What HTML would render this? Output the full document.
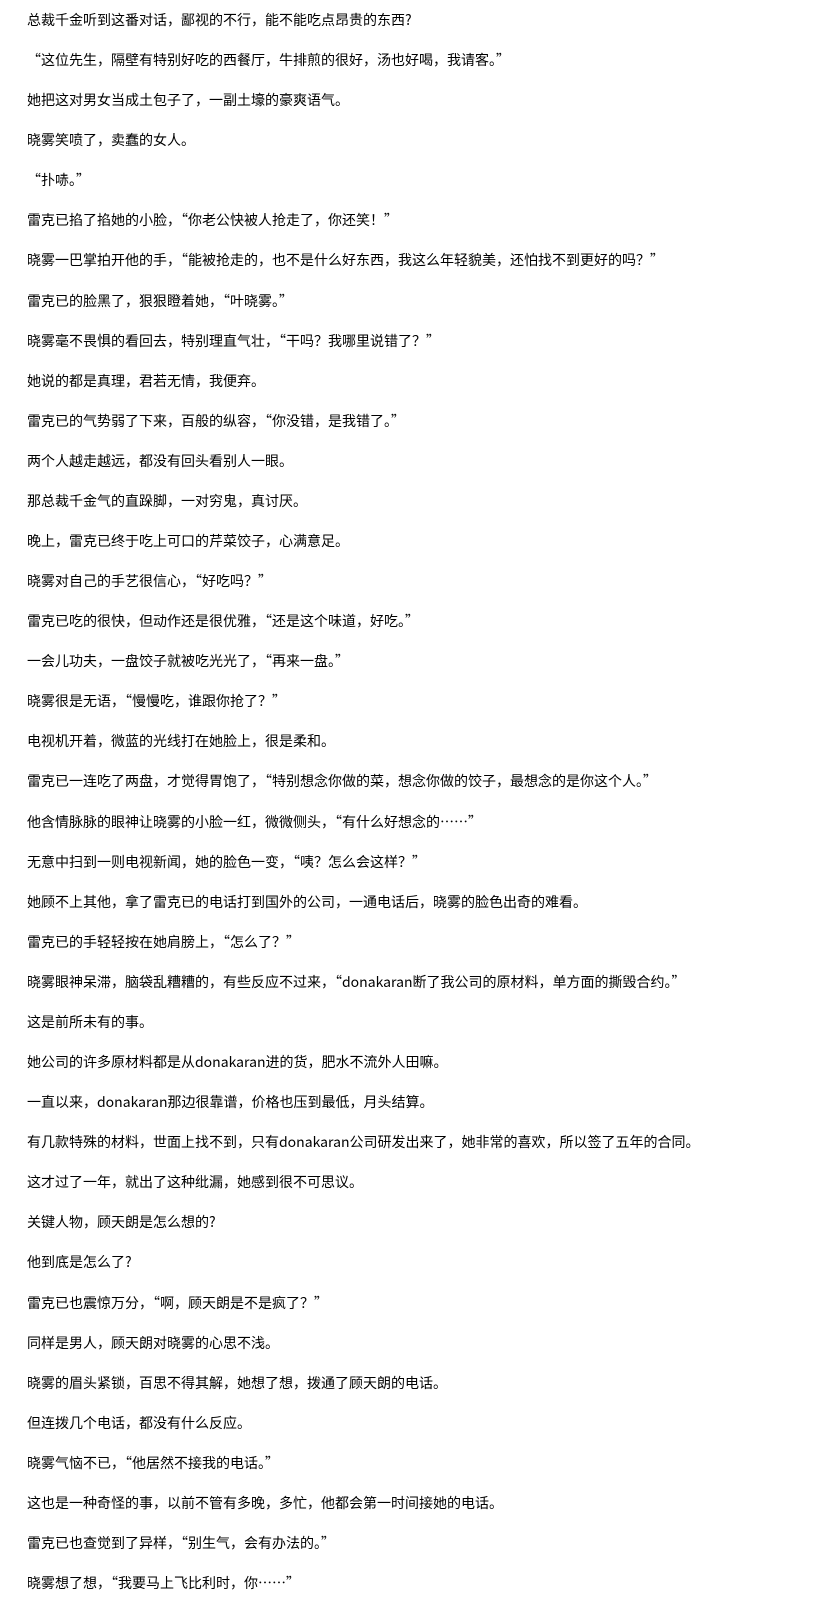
<!DOCTYPE html>
<html><head><meta charset="utf-8"><style>
html,body{margin:0;padding:0;background:#fff;width:835px;height:1611px;overflow:hidden;position:relative}
body{font-family:"WenQuanYi Zen Hei","Noto Sans CJK SC",sans-serif;font-size:14px;color:#000}
p{position:absolute;left:27px;margin:0;height:40px;line-height:40px;white-space:nowrap}
</style></head><body>
<p style="top:0px">总裁千金听到这番对话，鄙视的不行，能不能吃点昂贵的东西?</p>
<p style="top:40px">“这位先生，隔壁有特别好吃的西餐厅，牛排煎的很好，汤也好喝，我请客。”</p>
<p style="top:80px">她把这对男女当成土包子了，一副土壕的豪爽语气。</p>
<p style="top:120px">晓雾笑喷了，卖蠢的女人。</p>
<p style="top:160px">“扑哧。”</p>
<p style="top:200px">雷克已掐了掐她的小脸，“你老公快被人抢走了，你还笑！”</p>
<p style="top:240px">晓雾一巴掌拍开他的手，“能被抢走的，也不是什么好东西，我这么年轻貌美，还怕找不到更好的吗？”</p>
<p style="top:281px">雷克已的脸黑了，狠狠瞪着她，“叶晓雾。”</p>
<p style="top:321px">晓雾毫不畏惧的看回去，特别理直气壮，“干吗？我哪里说错了？”</p>
<p style="top:361px">她说的都是真理，君若无情，我便弃。</p>
<p style="top:401px">雷克已的气势弱了下来，百般的纵容，“你没错，是我错了。”</p>
<p style="top:441px">两个人越走越远，都没有回头看别人一眼。</p>
<p style="top:481px">那总裁千金气的直跺脚，一对穷鬼，真讨厌。</p>
<p style="top:521px">晚上，雷克已终于吃上可口的芹菜饺子，心满意足。</p>
<p style="top:561px">晓雾对自己的手艺很信心，“好吃吗？”</p>
<p style="top:601px">雷克已吃的很快，但动作还是很优雅，“还是这个味道，好吃。”</p>
<p style="top:641px">一会儿功夫，一盘饺子就被吃光光了，“再来一盘。”</p>
<p style="top:681px">晓雾很是无语，“慢慢吃，谁跟你抢了？”</p>
<p style="top:721px">电视机开着，微蓝的光线打在她脸上，很是柔和。</p>
<p style="top:761px">雷克已一连吃了两盘，才觉得胃饱了，“特别想念你做的菜，想念你做的饺子，最想念的是你这个人。”</p>
<p style="top:802px">他含情脉脉的眼神让晓雾的小脸一红，微微侧头，“有什么好想念的……”</p>
<p style="top:842px">无意中扫到一则电视新闻，她的脸色一变，“咦？怎么会这样？”</p>
<p style="top:882px">她顾不上其他，拿了雷克已的电话打到国外的公司，一通电话后，晓雾的脸色出奇的难看。</p>
<p style="top:922px">雷克已的手轻轻按在她肩膀上，“怎么了？”</p>
<p style="top:962px">晓雾眼神呆滞，脑袋乱糟糟的，有些反应不过来，“donakaran断了我公司的原材料，单方面的撕毁合约。”</p>
<p style="top:1002px">这是前所未有的事。</p>
<p style="top:1042px">她公司的许多原材料都是从donakaran进的货，肥水不流外人田嘛。</p>
<p style="top:1082px">一直以来，donakaran那边很靠谱，价格也压到最低，月头结算。</p>
<p style="top:1122px">有几款特殊的材料，世面上找不到，只有donakaran公司研发出来了，她非常的喜欢，所以签了五年的合同。</p>
<p style="top:1162px">这才过了一年，就出了这种纰漏，她感到很不可思议。</p>
<p style="top:1202px">关键人物，顾天朗是怎么想的?</p>
<p style="top:1242px">他到底是怎么了?</p>
<p style="top:1283px">雷克已也震惊万分，“啊，顾天朗是不是疯了？”</p>
<p style="top:1323px">同样是男人，顾天朗对晓雾的心思不浅。</p>
<p style="top:1363px">晓雾的眉头紧锁，百思不得其解，她想了想，拨通了顾天朗的电话。</p>
<p style="top:1403px">但连拨几个电话，都没有什么反应。</p>
<p style="top:1443px">晓雾气恼不已，“他居然不接我的电话。”</p>
<p style="top:1483px">这也是一种奇怪的事，以前不管有多晚，多忙，他都会第一时间接她的电话。</p>
<p style="top:1523px">雷克已也查觉到了异样，“别生气，会有办法的。”</p>
<p style="top:1563px">晓雾想了想，“我要马上飞比利时，你……”</p>
</body></html>
